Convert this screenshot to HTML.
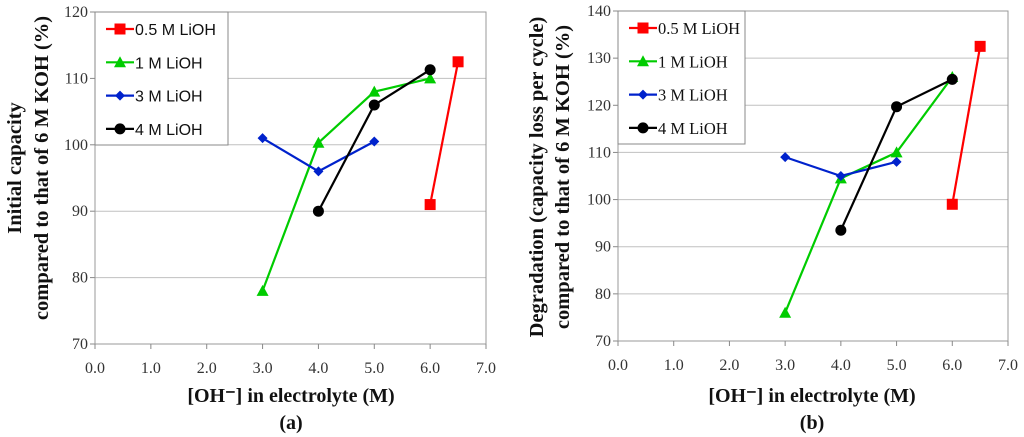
<!DOCTYPE html>
<html><head><meta charset="utf-8"><style>
html,body{margin:0;padding:0;background:#fff}
svg{display:block}
.tk{font-family:"Liberation Serif",serif;font-size:16px;fill:#333}
.tt{font-family:"Liberation Serif",serif;font-size:20.5px;font-weight:bold;fill:#111}
.xt{font-family:"Liberation Serif",serif;font-size:20px;font-weight:bold;fill:#111}
.lgs{font-family:"Liberation Sans",sans-serif;font-size:16px;fill:#111}
.lgr{font-family:"Liberation Serif",serif;font-size:16.5px;fill:#111}
</style></head><body>
<svg id="svg" width="1024" height="437" viewBox="0 0 1024 437" xmlns="http://www.w3.org/2000/svg"></svg>
<script>
const seriesNames=["0.5 M LiOH","1 M LiOH","3 M LiOH","4 M LiOH"];
const seriesColors=["#ff0000","#00cc00","#0022cc","#000000"];
const seriesMarkers=["square","triangle","diamond","circle"];
const xTicks=[0,1,2,3,4,5,6,7];
const xTickLabels=["0.0","1.0","2.0","3.0","4.0","5.0","6.0","7.0"];
const aYTicks=[70,80,90,100,110,120];
const bYTicks=[70,80,90,100,110,120,130,140];
const aX=[[6,6.5],[3,4,5,6],[3,4,5],[4,5,6]];
const aY=[[91,112.5],[78,100.3,108,110],[101,96,100.5],[90,106,111.3]];
const bX=[[6,6.5],[3,4,5,6],[3,4,5],[4,5,6]];
const bY=[[99,132.5],[76,104.5,110,126],[109,105,108],[93.5,119.7,125.5]];

const NS="http://www.w3.org/2000/svg";
const svg=document.getElementById('svg');
function mk(tag,attrs,parent){const e=document.createElementNS(NS,tag);for(const k in attrs)e.setAttribute(k,attrs[k]);(parent||svg).appendChild(e);return e;}

function marker(g,type,x,y,c){
  let e;
  if(type==="square")e=mk('rect',{x:x-5.5,y:y-5.5,width:11,height:11,fill:c},g);
  else if(type==="triangle")e=mk('polygon',{points:`${x},${y-6} ${x+6},${y+5} ${x-6},${y+5}`,fill:c},g);
  else if(type==="diamond")e=mk('polygon',{points:`${x},${y-5} ${x+5},${y} ${x},${y+5} ${x-5},${y}`,fill:c},g);
  else e=mk('circle',{cx:x,cy:y,r:5.5,fill:c},g);
  
  
}

function chart(cfg){
  const g=mk('g',{});
  
  
  const {x0,x1,yTop,yBot,ymin,ymax}=cfg;
  const sx=v=>x0+(v-0)/(7-0)*(x1-x0);
  const sy=v=>yBot-(v-ymin)/(ymax-ymin)*(yBot-yTop);
  cfg.yTicks.forEach(t=>{
    const l=mk('line',{x1:x0,x2:x1,y1:sy(t),y2:sy(t),stroke:t===ymin?'#888':'#c0c0c0','stroke-width':1},g);
    
    
    const tx=mk('text',{x:x0-7,y:sy(t)+5,'text-anchor':'end',class:'tk'},g);
    tx.textContent=t;
    
    
    mk('line',{x1:x0-5,x2:x0,y1:sy(t),y2:sy(t),stroke:'#888'},g);
  });
  const frame=mk('rect',{x:x0,y:yTop,width:x1-x0,height:yBot-yTop,fill:'none',stroke:'#999'},g);
  
  
  xTicks.forEach((t,i)=>{
    mk('line',{x1:sx(t),x2:sx(t),y1:yBot,y2:yBot+5,stroke:'#888'},g);
    const tx=mk('text',{x:sx(t),y:cfg.xLabY,'text-anchor':'middle',class:'tk'},g);
    tx.textContent=xTickLabels[i];
    
    
  });
  cfg.X.forEach((xs,si)=>{
    const sg=mk('g',{},g);
    
    
    const pts=xs.map((x,i)=>sx(x)+','+sy(cfg.Y[si][i])).join(' ');
    mk('polyline',{points:pts,fill:'none',stroke:seriesColors[si],'stroke-width':2.2},sg);
    xs.forEach((x,i)=>marker(sg,seriesMarkers[si],sx(x),sy(cfg.Y[si][i]),seriesColors[si]));
  });
  const lg=mk('g',{},g);
  
  
  mk('rect',{x:x0,y:yTop,width:cfg.legW,height:133,fill:'#fff',stroke:'#888'},lg);
  seriesNames.forEach((n,i)=>{
    const y=yTop+17+i*33.3;
    const eg=mk('g',{},lg);
    
    
    mk('line',{x1:x0+11,x2:x0+39,y1:y,y2:y,stroke:seriesColors[i],'stroke-width':2.2},eg);
    marker(eg,seriesMarkers[i],x0+25,y,seriesColors[i]);
    const t=mk('text',{x:x0+40,y:y+6,class:cfg.legClass},eg);
    t.textContent=n;
  });
  const xt=mk('text',{x:cfg.xtX,y:402,'text-anchor':'middle',class:'xt'},g);
  xt.textContent='[OH\u207B] in electrolyte (M)';
  
  
  const pl=mk('text',{x:cfg.xtX,y:429,'text-anchor':'middle',class:'xt','font-weight':'normal'},g);
  pl.innerHTML='(<tspan font-weight="bold">'+cfg.panel+'</tspan>)';
  
  
  cfg.yTitle.forEach((s,i)=>{
    const cx=cfg.yTitleX[i], cy=cfg.yTitleY;
    const t=mk('text',{x:cx,y:cy,'text-anchor':'middle','dominant-baseline':'central',class:'tt',transform:`rotate(-90 ${cx} ${cy})`},g);
    t.textContent=s;
    
    
  });
}
chart({name:'chart-a',x0:95,x1:486,yTop:12,yBot:344,ymin:70,ymax:120,yTicks:aYTicks,X:aX,Y:aY,legW:133,legClass:'lgs',panel:'a',xLabY:373,xtX:291,
  yTitle:['Initial capacity','compared to that of 6 M KOH (%)'],yTitleX:[15,42],yTitleY:168});
chart({name:'chart-b',x0:618,x1:1008,yTop:11,yBot:341,ymin:70,ymax:140,yTicks:bYTicks,X:bX,Y:bY,legW:127,legClass:'lgr',panel:'b',xLabY:370,xtX:812,
  yTitle:['Degradation (capacity loss per cycle)','compared to that of 6 M KOH (%)'],yTitleX:[537,563],yTitleY:177});
</script>
</body></html>
